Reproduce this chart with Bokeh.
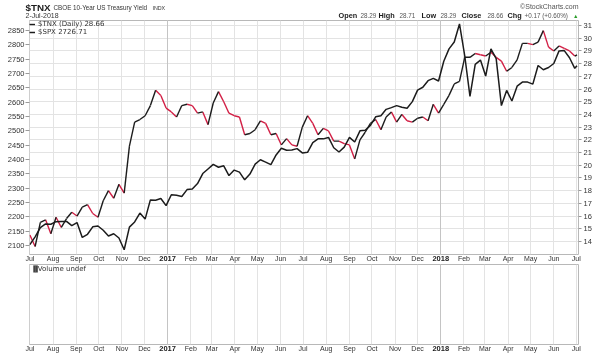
import pandas as pd
from bokeh.plotting import figure
from bokeh.layouts import column
from bokeh.models import (Range1d, LinearAxis, DatetimeAxis, FixedTicker, Legend, LegendItem,
                          ColumnDataSource, Grid)
from bokeh.core.properties import value
from bokeh.embed import file_html
from bokeh.resources import INLINE

# ---------------- data (weekly closes) ----------------
dates = list(pd.date_range("2016-07-01", "2018-06-29", freq="W-FRI")) + [pd.Timestamp("2018-07-02")]

spx = [2103, 2130, 2162, 2175, 2174, 2183, 2184, 2184, 2169, 2180, 2128, 2139, 2165, 2168,
       2153, 2133, 2141, 2126, 2085, 2164, 2182, 2213, 2192, 2259, 2258, 2264, 2239,
       2277, 2275, 2271, 2295, 2297, 2316, 2351, 2367, 2383, 2373, 2378, 2344, 2363,
       2356, 2329, 2349, 2384, 2399, 2391, 2382, 2416, 2439, 2432, 2433, 2438, 2423,
       2425, 2459, 2472, 2472, 2477, 2441, 2426, 2443, 2477, 2461, 2500, 2502, 2519,
       2549, 2553, 2575, 2581, 2588, 2582, 2579, 2602, 2642, 2652, 2675, 2683, 2674,
       2743, 2786, 2810, 2873, 2762, 2620, 2732, 2747, 2691, 2786, 2752, 2588, 2641,
       2604, 2656, 2670, 2670, 2663, 2728, 2713, 2721, 2735, 2779, 2780, 2755, 2718, 2727]

tnx = [14.5, 13.6, 15.5, 15.7, 14.6, 15.9, 15.1, 15.8, 16.3, 16.0, 16.7, 16.9, 16.2, 15.9,
       17.2, 18.0, 17.4, 18.5, 17.8, 21.5, 23.4, 23.6, 23.9, 24.7, 25.9, 25.5, 24.5,
       24.2, 23.8, 24.7, 24.8, 24.7, 24.1, 24.2, 23.2, 24.9, 25.8, 25.0, 24.1, 23.9,
       23.8, 22.4, 22.5, 22.8, 23.5, 23.3, 22.4, 22.5, 21.6, 22.1, 21.6, 21.5, 23.0,
       23.9, 23.3, 22.4, 22.9, 22.7, 21.9, 21.9, 21.7, 21.6, 20.5, 22.0, 22.6, 23.3,
       23.6, 22.8, 23.8, 24.2, 23.4, 24.0, 23.5, 23.4, 23.7, 23.8, 23.5, 24.8, 24.1,
       24.8, 25.5, 26.4, 26.6, 28.5, 28.5, 28.8, 28.7, 28.6, 28.9, 28.5, 28.2, 27.4,
       27.7, 28.3, 29.6, 29.6, 29.5, 29.7, 30.6, 29.3, 29.0, 29.4, 29.2, 29.0, 28.6, 28.7]

month_starts = list(pd.date_range("2016-07-01", "2018-07-01", freq="MS"))
month_labels = ["Jul", "Aug", "Sep", "Oct", "Nov", "Dec", "2017", "Feb", "Mar", "Apr", "May", "Jun",
                "Jul", "Aug", "Sep", "Oct", "Nov", "Dec", "2018", "Feb", "Mar", "Apr", "May", "Jun", "Jul"]
spx_ticks = list(range(2100, 2851, 50))
tnx_ticks = list(range(14, 32))

# ---------------- geometry / style ----------------
W = 600
HEAD_H = 20
FL, FR = 29, 578
MAIN_FH = 234
VOL_FH = 80
x_start = pd.Timestamp("2016-06-30 12:00")
x_end = pd.Timestamp("2018-07-04")
TNX_LO, TNX_HI = 12.97, 31.40
SPX_LO, SPX_HI = 2068.5, 2885.0
RED = "#d21f45"
BLK = "#1c1c1c"
GRID = "#e3e3e3"
TXT = "#333333"
FONT = "Liberation Sans"

tick_ms = [int(d.value // 10**6) for d in month_starts]
year_ms = [t for t, l in zip(tick_ms, month_labels) if l.isdigit()]
month_over = {t: ("" if l.isdigit() else l) for t, l in zip(tick_ms, month_labels)}
year_over = {t: l for t, l in zip(tick_ms, month_labels) if l.isdigit()}


def style_xaxis(ax, ticks, over, bold=False, standoff=0):
    ax.ticker = FixedTicker(ticks=ticks)
    ax.major_label_overrides = over
    ax.major_label_text_font = FONT
    ax.major_label_text_font_size = "7.5px" if bold else "7px"
    ax.major_label_text_font_style = "bold" if bold else "normal"
    ax.major_label_text_color = BLK if bold else TXT
    ax.major_label_standoff = standoff
    ax.major_tick_out = 0
    ax.major_tick_in = 0
    ax.minor_tick_line_color = None
    ax.axis_line_color = None


def make_fig(frame_h, y_range):
    f = figure(x_axis_type="datetime", x_range=Range1d(x_start, x_end), y_range=y_range,
               frame_width=FR - FL, frame_height=frame_h,
               min_border_left=FL, min_border_right=W - FR, min_border_top=0,
               min_border_bottom=4, toolbar_location=None, output_backend="svg",
               y_axis_location="right")
    f.outline_line_color = "#b8b8b8"
    f.background_fill_color = "white"
    f.border_fill_color = "white"
    f.xgrid.ticker = FixedTicker(ticks=tick_ms)
    f.xgrid.grid_line_color = GRID
    f.add_layout(Grid(dimension=0, ticker=FixedTicker(ticks=year_ms), grid_line_color="#c4c4c4"))
    style_xaxis(f.xaxis[0], tick_ms, month_over)
    # bold year labels, pulled up into the month row by a negative standoff
    ya = DatetimeAxis()
    style_xaxis(ya, year_ms, year_over, bold=True, standoff=-9)
    f.add_layout(ya, "below")
    return f


# ---------------- header strip ----------------
h = figure(width=W, height=HEAD_H, x_range=Range1d(0, W), y_range=Range1d(HEAD_H, 0),
           min_border=0, toolbar_location=None, output_backend="svg")
h.axis.visible = False
h.grid.visible = False
h.outline_line_color = None
h.background_fill_color = "white"

hdr = [
    # text, x, y, size, style, colour, align  (page pixels)
    ("$TNX", 25, 6.5, "9.8px", "bold", BLK, "left"),
    ("CBOE 10-Year US Treasury Yield", 53, 7, "6.3px", "normal", TXT, "left"),
    ("INDX", 152, 7.5, "5.3px", "normal", TXT, "left"),
    ("2-Jul-2018", 25, 15, "7px", "normal", TXT, "left"),
    ("\u00a9StockCharts.com", 578, 6, "7px", "normal", "#555555", "right"),
    ("Open", 338, 15, "7.3px", "bold", BLK, "left"),
    ("28.29", 360, 15, "6.3px", "normal", "#555555", "left"),
    ("High", 378, 15, "7.3px", "bold", BLK, "left"),
    ("28.71", 399, 15, "6.3px", "normal", "#555555", "left"),
    ("Low", 421, 15, "7.3px", "bold", BLK, "left"),
    ("28.29", 440, 15, "6.3px", "normal", "#555555", "left"),
    ("Close", 461, 15, "7.3px", "bold", BLK, "left"),
    ("28.66", 487, 15, "6.3px", "normal", "#555555", "left"),
    ("Chg", 507, 15, "7.3px", "bold", BLK, "left"),
    ("+0.17 (+0.60%)", 524, 15, "6.3px", "normal", "#555555", "left"),
    ("\u25b2", 578, 15.5, "5.5px", "normal", "#2a9d2a", "right"),
]
for t, x, y, fs, fw, col, al in hdr:
    h.text(x=[x], y=[y], text=[t], text_font=value(FONT), text_font_size=value(fs),
           text_font_style=fw, text_color=col, text_align=al, text_baseline="middle")
h.styles = {"position": "fixed", "left": "0px", "top": "0px"}

# ---------------- main panel ----------------
p = make_fig(MAIN_FH, Range1d(TNX_LO, TNX_HI))
p.extra_y_ranges = {"spx": Range1d(SPX_LO, SPX_HI)}
p.ygrid.ticker = FixedTicker(ticks=tnx_ticks)
p.ygrid.grid_line_color = GRID

ry = p.yaxis[0]
ry.ticker = FixedTicker(ticks=tnx_ticks)
ry.major_label_text_font = FONT
ry.major_label_text_font_size = "7.5px"
ry.major_label_text_color = TXT
ry.major_tick_out = 3
ry.major_tick_in = 0
ry.major_tick_line_color = "#999999"
ry.minor_tick_line_color = None
ry.axis_line_color = None
ry.major_label_standoff = 2

ly = LinearAxis(y_range_name="spx", ticker=FixedTicker(ticks=spx_ticks))
ly.major_label_text_font = FONT
ly.major_label_text_font_size = "7.5px"
ly.major_label_text_color = TXT
ly.major_tick_out = 4
ly.major_tick_in = 0
ly.major_tick_line_color = "#999999"
ly.minor_tick_line_color = None
ly.axis_line_color = None
ly.major_label_standoff = 1
p.add_layout(ly, "left")

seg = dict(x0=dates[:-1], y0=tnx[:-1], x1=dates[1:], y1=tnx[1:])
up_idx = [i for i in range(len(tnx) - 1) if tnx[i + 1] >= tnx[i]]
dn_idx = [i for i in range(len(tnx) - 1) if tnx[i + 1] < tnx[i]]
src_up = ColumnDataSource({k: [v[i] for i in up_idx] for k, v in seg.items()})
src_dn = ColumnDataSource({k: [v[i] for i in dn_idx] for k, v in seg.items()})
r_dn = p.segment("x0", "y0", "x1", "y1", source=src_dn, line_color=RED, line_width=1.4)
r_up = p.segment("x0", "y0", "x1", "y1", source=src_up, line_color=BLK, line_width=1.4)
r_spx = p.line(dates, spx, y_range_name="spx", line_color=BLK, line_width=1.5)

legend = Legend(items=[LegendItem(label="$TNX (Daily) 28.66", renderers=[r_up]),
                       LegendItem(label="$SPX 2726.71", renderers=[r_spx])],
                location="top_left", orientation="vertical")
legend.background_fill_alpha = 0
legend.border_line_alpha = 0
legend.margin = 0
legend.padding = 0
legend.spacing = -3
legend.label_height = 6
legend.glyph_height = 6
legend.glyph_width = 6
legend.label_standoff = 3
legend.label_text_font = "DejaVu Sans"
legend.label_text_font_size = "7px"
legend.label_text_color = TXT
legend.label_text_line_height = 0.9
p.add_layout(legend)

# ---------------- volume panel ----------------
v = make_fig(VOL_FH, Range1d(0, 1))
v.yaxis.visible = False
v.ygrid.visible = False
v.text(x=[x_start + pd.Timedelta(days=2)], y=[0.95], text=["\u2590\u258c"],
       text_font=value("DejaVu Sans"), text_font_size=value("6px"), text_color="#444444",
       text_baseline="middle")
v.text(x=[x_start + pd.Timedelta(days=11)], y=[0.95], text=["Volume undef"],
       text_font=value("DejaVu Sans"), text_font_size=value("7px"), text_color=TXT,
       text_baseline="middle")

layout = column(p, v, spacing=0,
                styles={"position": "fixed", "left": "0px", "top": "%dpx" % HEAD_H})
open("out.html", "w").write(file_html([h, layout], INLINE))
